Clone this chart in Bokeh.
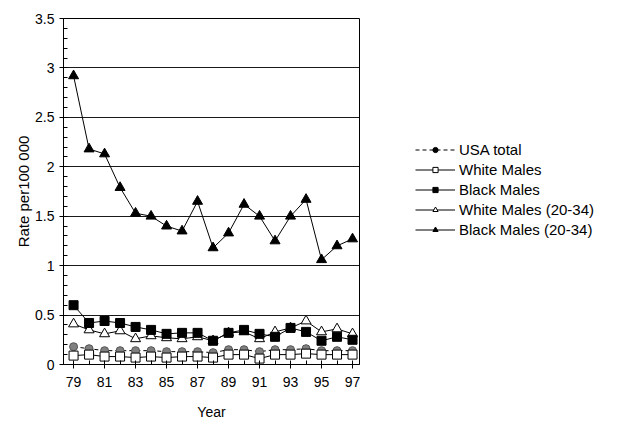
from bokeh.plotting import figure
from bokeh.models import (ColumnDataSource, Legend, LegendItem, FixedTicker, Range1d)
from bokeh.embed import file_html
from bokeh.resources import INLINE

years = list(range(79, 98))
usa_total = [0.18, 0.16, 0.14, 0.14, 0.14, 0.14, 0.13, 0.13, 0.13, 0.12,
             0.15, 0.15, 0.13, 0.15, 0.15, 0.16, 0.14, 0.14, 0.14]
white_males = [0.09, 0.10, 0.08, 0.08, 0.07, 0.08, 0.07, 0.08, 0.08, 0.07,
               0.10, 0.10, 0.06, 0.10, 0.10, 0.11, 0.10, 0.10, 0.10]
black_males = [0.60, 0.42, 0.44, 0.42, 0.38, 0.35, 0.31, 0.32, 0.32, 0.24,
               0.32, 0.35, 0.31, 0.28, 0.37, 0.33, 0.24, 0.28, 0.25]
white_males_2034 = [0.41, 0.35, 0.31, 0.34, 0.26, 0.29, 0.27, 0.26, 0.28, 0.24,
                    0.32, 0.33, 0.26, 0.33, 0.37, 0.44, 0.33, 0.36, 0.31]
black_males_2034 = [2.92, 2.18, 2.13, 1.79, 1.53, 1.50, 1.40, 1.35, 1.65, 1.18,
                    1.33, 1.62, 1.50, 1.25, 1.50, 1.67, 1.06, 1.20, 1.27]

labels = ["USA total", "White Males", "Black Males",
          "White Males (20-34)", "Black Males (20-34)"]

FONT = "Liberation Sans"

p = figure(frame_width=296, frame_height=346, output_backend="svg",
           toolbar_location=None,
           x_range=Range1d(78.35, 97.45), y_range=Range1d(0, 3.5),
           min_border_left=63, min_border_right=10, min_border_top=18,
           min_border_bottom=10)
p.outline_line_color = "black"
p.outline_line_width = 1

src = ColumnDataSource(dict(x=years, usa=usa_total, wm=white_males, bm=black_males,
                            wm2=white_males_2034, bm2=black_males_2034))

# plot series
p.line("x", "bm2", source=src, line_color="black", line_width=1)
p.scatter("x", "bm2", source=src, marker="triangle", size=10,
          fill_color="black", line_color="black")
p.line("x", "wm2", source=src, line_color="black", line_width=1)
p.scatter("x", "wm2", source=src, marker="triangle", size=10,
          fill_color="white", line_color="black")
p.line("x", "bm", source=src, line_color="black", line_width=1)
p.scatter("x", "bm", source=src, marker="square", size=9,
          fill_color="black", line_color="black")
p.line("x", "usa", source=src, line_color="black", line_width=1, line_dash="4 3")
p.scatter("x", "usa", source=src, marker="circle", size=8,
          fill_color="#808080", line_color="#555555")
p.line("x", "wm", source=src, line_color="black", line_width=1)
p.scatter("x", "wm", source=src, marker="square", size=9,
          fill_color="white", line_color="black")

# legend-only renderers (smaller markers); their points lie off-range
specs = [("circle", "black", "4 3"), ("square", "white", "solid"),
         ("square", "black", "solid"), ("triangle", "white", "solid"),
         ("triangle", "black", "solid")]
items = []
for lab, (mk, fc, dash) in zip(labels, specs):
    s = ColumnDataSource(data=dict(x=[0, 1], y=[-10, -10]))
    r1 = p.line("x", "y", source=s, line_color="black", line_width=1, line_dash=dash)
    r2 = p.scatter("x", "y", source=s, marker=mk, size=6, fill_color=fc,
                   line_color="black")
    items.append(LegendItem(label=lab, renderers=[r1, r2]))

legend = Legend(items=items, location=(56, 126), border_line_color=None,
                background_fill_alpha=0, label_text_font=FONT,
                label_text_color="black",
                label_text_font_size="15px", glyph_width=40, glyph_height=13,
                label_standoff=4, spacing=3, padding=0, margin=0,
                label_height=15)
p.add_layout(legend, "right")

# axes
p.xaxis.ticker = FixedTicker(ticks=list(range(79, 98, 2)), minor_ticks=years)
p.xaxis.major_label_overrides = {y: str(y) for y in years}
p.yaxis.ticker = FixedTicker(ticks=[0, 0.5, 1, 1.5, 2, 2.5, 3, 3.5],
                             minor_ticks=[i / 10 for i in range(36)])
p.yaxis.major_label_overrides = {0: "0", 0.5: "0.5", 1: "1", 1.5: "1.5",
                                 2: "2", 2.5: "2.5", 3: "3", 3.5: "3.5"}
for ax in (p.xaxis, p.yaxis):
    ax.axis_line_color = "black"
    ax.major_tick_line_color = "black"
    ax.minor_tick_line_color = "black"
    ax.major_tick_in = 0
    ax.major_tick_out = 4
    ax.minor_tick_in = 4
    ax.minor_tick_out = 0
    ax.major_label_text_font = FONT
    ax.major_label_text_font_size = "14px"
    ax.major_label_text_color = "black"
    ax.axis_label_text_font = FONT
    ax.axis_label_text_font_style = "normal"
    ax.axis_label_text_color = "black"
p.xaxis.axis_label = "Year"
p.yaxis.axis_label = "Rate per100 000"
p.xaxis.axis_label_text_font_size = "14px"
p.yaxis.axis_label_text_font_size = "15px"
p.xaxis.major_label_standoff = 8
p.xaxis.axis_label_standoff = 14
p.yaxis.major_label_standoff = 5
p.yaxis.axis_label_standoff = 0

p.xgrid.grid_line_color = None
p.ygrid.grid_line_color = "black"
p.ygrid.grid_line_alpha = 0.9
p.ygrid.grid_line_width = 1

open("out.html", "w").write(file_html(p, INLINE))
